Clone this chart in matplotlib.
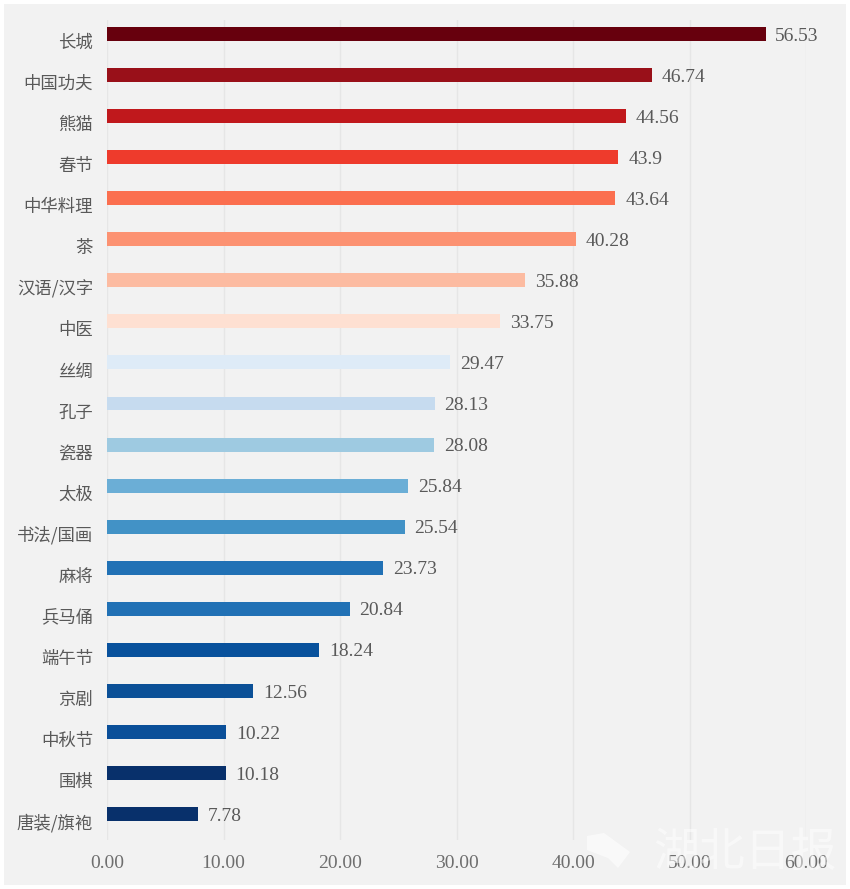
"""Horizontal bars of recognition scores for Chinese culture symbols."""

import matplotlib

matplotlib.use("Agg")
import matplotlib.pyplot as plt
from matplotlib.patches import Polygon, Rectangle
from matplotlib.transforms import ScaledTranslation

labels = [
    "长城", "中国功夫", "熊猫", "春节", "中华料理", "茶", "汉语/汉字", "中医", "丝绸", "孔子",
    "瓷器", "太极", "书法/国画", "麻将", "兵马俑", "端午节", "京剧", "中秋节", "围棋", "唐装/旗袍",
]
values = [
    56.53, 46.74, 44.56, 43.9, 43.64, 40.28, 35.88, 33.75, 29.47, 28.13,
    28.08, 25.84, 25.54, 23.73, 20.84, 18.24, 12.56, 10.22, 10.18, 7.78,
]
value_labels = [
    "56.53", "46.74", "44.56", "43.9", "43.64", "40.28", "35.88", "33.75", "29.47", "28.13",
    "28.08", "25.84", "25.54", "23.73", "20.84", "18.24", "12.56", "10.22", "10.18", "7.78",
]
colors = [
    "#67000d", "#991019", "#c0181c", "#ee3b2c", "#fb6f4f", "#fc9272", "#fcbba1", "#fee0d2",
    "#deebf7", "#c6dbef", "#9ecae1", "#6baed6", "#4292c6", "#2171b5", "#2171b5", "#08519c",
    "#0b5097", "#0a4f99", "#08306b", "#08306b",
]
ticks = [0, 10, 20, 30, 40, 50, 60]

W, H = 850, 889
BACKGROUND = "#f2f2f2"
TEXT = "#595959"
SERIF = "Liberation Serif"
CJK = "Noto Sans CJK SC"

fig = plt.figure(figsize=(W / 100, H / 100), dpi=100, facecolor="white")
fig.add_artist(
    Rectangle((4 / W, 4 / H), 842 / W, 881 / H, transform=fig.transFigure,
              facecolor=BACKGROUND, edgecolor="none", zorder=-5)
)

ax = fig.add_axes([107 / W, 1 - 840 / H, (806 - 107) / W, (840 - 20) / H])
ax.patch.set_alpha(0)
positions = list(range(len(labels)))
ax.barh(positions, values, height=0.34, color=colors, zorder=3)
ax.set_xlim(0, 60)
ax.set_ylim(len(labels) - 1 + 0.63, -0.34)

ax.set_xticks(ticks, [f"{t:.2f}" for t in ticks], fontfamily=SERIF, fontsize=14, color="#6e6e6e")
ax.set_yticks(positions, labels, fontfamily=CJK, fontsize=12.5, color=TEXT)
ax.tick_params(axis="both", length=0)
ax.tick_params(axis="x", pad=11)
ax.tick_params(axis="y", pad=10)
ax.grid(axis="x", color="#e6e6e6", linewidth=1, zorder=0)
for spine in ax.spines.values():
    spine.set_visible(False)

# category labels sit a little below their bars
shift = ScaledTranslation(0, -7 / 100, fig.dpi_scale_trans)
for tick_label in ax.get_yticklabels():
    tick_label.set_transform(tick_label.get_transform() + shift)

for position, value, text in zip(positions, values, value_labels):
    ax.annotate(
        text, (value, position), xytext=(7, -1.5), textcoords="offset points",
        va="center", ha="left", fontfamily=SERIF, fontsize=14, color=TEXT, zorder=4,
    )

# faint newspaper watermark, bottom right
fig.text(
    745 / W, 1 - 853 / H, "湖北日报", fontfamily=CJK, fontsize=33, style="italic",
    color="white", alpha=0.5, ha="center", va="center", zorder=6,
)
logo_shapes = [
    [(587, 836), (604, 833), (630, 852), (618, 868), (608, 858), (587, 850)],
]
for shape in logo_shapes:
    fig.add_artist(
        Polygon([(x / W, 1 - y / H) for x, y in shape], transform=fig.transFigure,
                facecolor="white", edgecolor="none", alpha=0.6, zorder=6)
    )

fig.savefig("out.png", dpi=100, facecolor="white")
